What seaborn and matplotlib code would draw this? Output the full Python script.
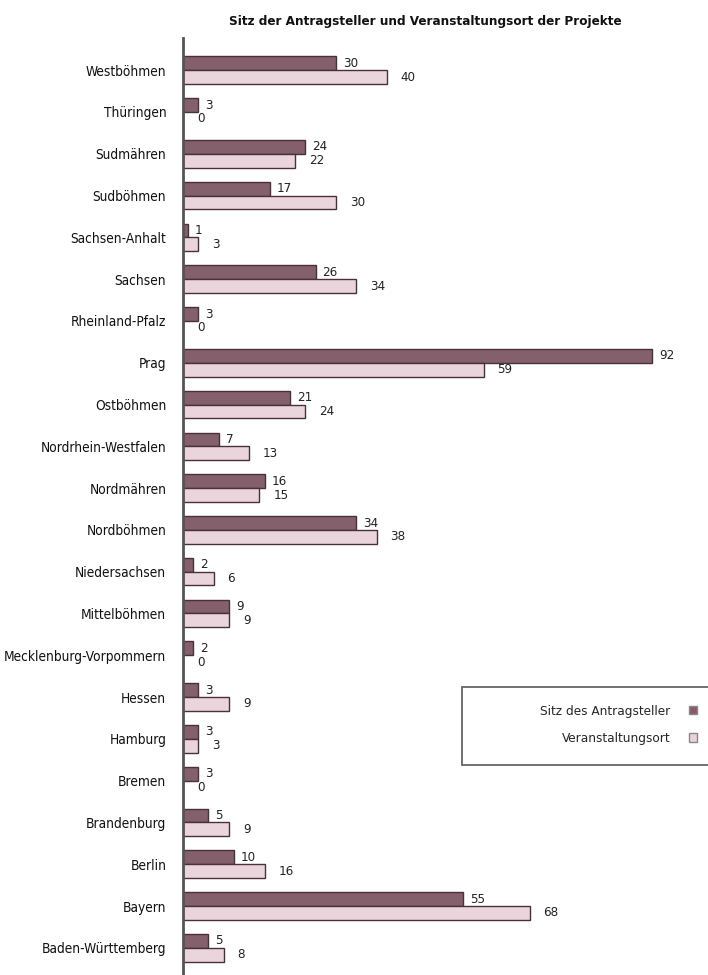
import matplotlib
matplotlib.use("Agg")
import matplotlib.pyplot as plt
import seaborn as sns
import pandas as pd
from matplotlib.patches import Patch, Rectangle

categories = ["Westböhmen", "Thüringen", "Sudmähren", "Sudböhmen", "Sachsen-Anhalt",
              "Sachsen", "Rheinland-Pfalz", "Prag", "Ostböhmen", "Nordrhein-Westfalen",
              "Nordmähren", "Nordböhmen", "Niedersachsen", "Mittelböhmen",
              "Mecklenburg-Vorpommern", "Hessen", "Hamburg", "Bremen", "Brandenburg",
              "Berlin", "Bayern", "Baden-Württemberg"]
sitz = [30, 3, 24, 17, 1, 26, 3, 92, 21, 7, 16, 34, 2, 9, 2, 3, 3, 3, 5, 10, 55, 5]
ort = [40, 0, 22, 30, 3, 34, 0, 59, 24, 13, 15, 38, 6, 9, 0, 9, 3, 0, 9, 16, 68, 8]
series = ["Sitz des Antragsteller", "Veranstaltungsort"]
title = "Sitz der Antragsteller und Veranstaltungsort der Projekte"

sns.set_style("white")
plt.rcParams["font.family"] = ["DejaVu Sans"]
plt.rcParams["font.stretch"] = "condensed"

df = pd.DataFrame({
    "Region": categories * 2,
    "Wert": sitz + ort,
    "Serie": [series[0]] * len(categories) + [series[1]] * len(categories),
})

dark = "#8a5a6a"
light = "#ecd2da"

fig = plt.figure(figsize=(7.08, 9.75), dpi=100)
ax = fig.add_axes([183/708, 0.0, 525/708, 1 - 38/975])
sns.barplot(data=df, y="Region", x="Wert", hue="Serie", order=categories,
            hue_order=series, palette=[dark, light], orient="h", width=0.66,
            edgecolor="#4a3038", linewidth=1.0, ax=ax, legend=False)

ax.set_xlim(0, 103)
n = len(categories)
ax.set_ylim(n - 1 + 0.65, -0.77)
for s in ["top", "right", "bottom"]:
    ax.spines[s].set_visible(False)
ax.spines["left"].set_color("#555555")
ax.spines["left"].set_linewidth(2)
ax.set_xticks([])
ax.set_xlabel("")
ax.set_ylabel("")
ax.tick_params(axis="y", length=0, pad=12, labelsize=9.8, labelcolor="#111111")

for i, cont in enumerate(ax.containers):
    ax.bar_label(cont, labels=[str(v) for v in (sitz if i == 0 else ort)],
                 padding=5 if i == 0 else 10, fontsize=9.5, color="#222222")

fig.text(425/708, 0.978, title, ha="center", va="center", fontsize=9.6,
         fontweight="bold", color="#111111")

# legend frame (extends past the right edge as in the reference)
fig.add_artist(Rectangle((462/708, 1 - 765/975), 260/708, 78/975,
                         transform=fig.transFigure, facecolor="white",
                         edgecolor="#666666", linewidth=1.3, zorder=5))

handles = [Patch(facecolor=dark, edgecolor="#888888", label=series[0]),
           Patch(facecolor=light, edgecolor="#888888", label=series[1])]
leg = fig.legend(handles=handles, loc="center right",
                 bbox_to_anchor=(708/708, 1 - 725/975),
                 bbox_transform=fig.transFigure, markerfirst=False, frameon=False,
                 fontsize=9.7, handlelength=0.6, handleheight=0.6,
                 handletextpad=1.4, borderpad=0.3, labelspacing=1.05,
                 alignment="right")
leg.set_zorder(6)
for t in leg.get_texts():
    t.set_ha("right")

fig.savefig("out.png", dpi=100)
